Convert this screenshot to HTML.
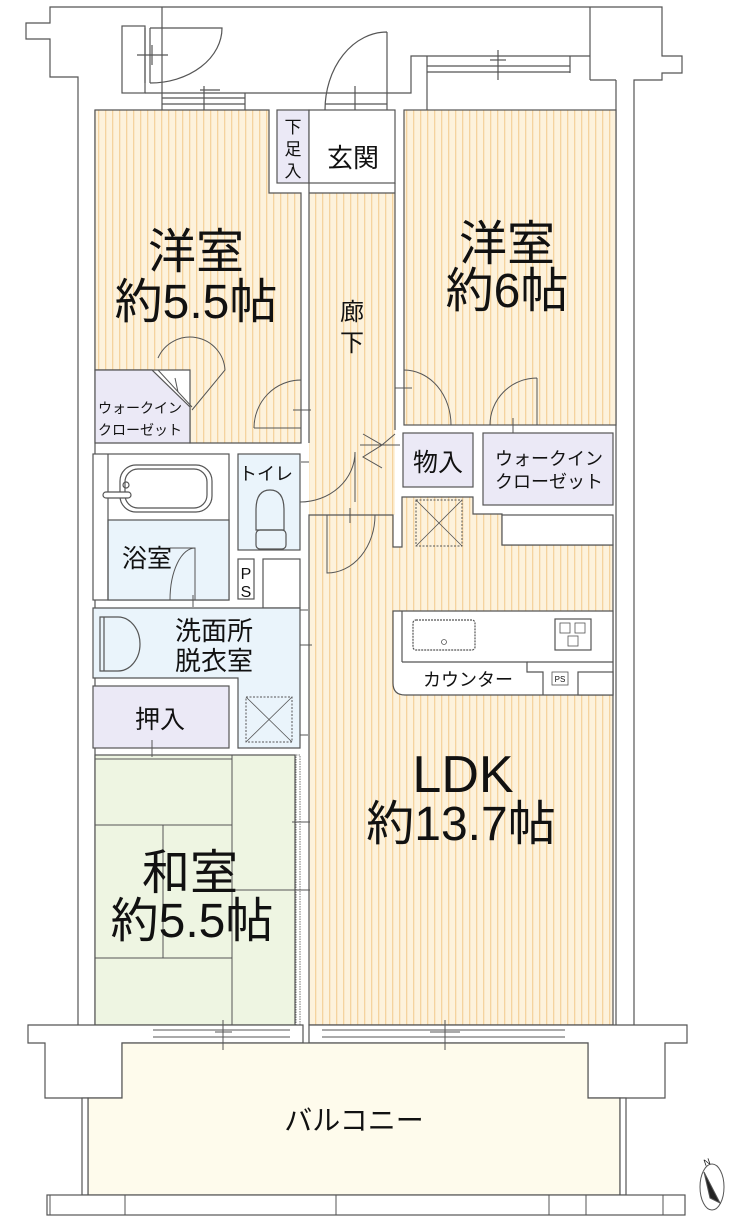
<!DOCTYPE html>
<html><head><meta charset="utf-8"><style>
html,body{margin:0;padding:0;background:#fff;}
svg{display:block;}
text{font-family:"Liberation Sans","Noto Sans CJK JP",sans-serif;fill:#111;}
</style></head><body>
<svg width="740" height="1224" viewBox="0 0 740 1224" xmlns="http://www.w3.org/2000/svg">
<defs>
<pattern id="st" width="7" height="10" patternUnits="userSpaceOnUse">
<rect width="7" height="10" fill="#fdf2dc"/><rect x="0" width="1.3" height="10" fill="#f5d39e"/>
</pattern>
</defs>
<g stroke="#555" stroke-width="1.2" fill="none">
<polyline points="78,1030 78,77 50,77 50,39 26,39 26,23 50,23 50,7 662,7 662,56 682,56 682,73 662,73 662,80 634,80 634,1030" fill="#fff"/>
<line x1="95" y1="110" x2="95" y2="1025"/>
<line x1="616" y1="80" x2="616" y2="1025"/>
<line x1="162" y1="7" x2="162" y2="110"/>
<line x1="590" y1="7" x2="590" y2="56"/>
<polyline points="145,93 411,93 411,56 590,56"/>
<line x1="590" y1="56" x2="590" y2="80"/>
<line x1="590" y1="80" x2="616" y2="80"/>
<rect x="122" y="26" width="23" height="67" fill="#fff"/>
<line x1="145" y1="28" x2="145" y2="83"/><line x1="150" y1="28" x2="150" y2="83"/>
<path d="M150,28 L222,28 A72,55 0 0 1 150,83"/>
<line x1="137" y1="55" x2="168" y2="55"/><line x1="152" y1="45" x2="152" y2="65"/>
<line x1="162" y1="98" x2="245" y2="98"/><line x1="162" y1="104" x2="245" y2="104"/>
<line x1="200" y1="90" x2="220" y2="90"/><line x1="204" y1="86" x2="204" y2="117"/>
<line x1="245" y1="93" x2="245" y2="110"/>
<path d="M387,32 L387,110 M325,110 A62,78 0 0 1 387,32"/>
<line x1="325" y1="104" x2="387" y2="104"/>
<line x1="355" y1="86" x2="355" y2="117"/>
<line x1="427" y1="56" x2="427" y2="110"/>
<line x1="427" y1="66" x2="570" y2="66"/><line x1="427" y1="72" x2="570" y2="72"/>
<line x1="570" y1="56" x2="570" y2="73"/>
<line x1="490" y1="60" x2="506" y2="60"/><line x1="498" y1="50" x2="498" y2="80"/>
</g>
<g stroke="#555" stroke-width="1.2">
<polygon points="95,110 269,110 269,193 301,193 301,443 190,443 190,370 95,370" fill="url(#st)"/>
<polygon points="95,370 152,370 190,407 190,443 95,443" fill="#ebe9f6"/>
<rect x="277" y="110" width="32" height="73" fill="#ebe9f6"/>
<rect x="309" y="110" width="86" height="73" fill="#fff"/>
<rect x="309" y="193" width="86" height="322" fill="url(#st)" stroke="none"/>
<line x1="309" y1="193" x2="395" y2="193"/><line x1="309" y1="183" x2="309" y2="443"/><line x1="395" y1="183" x2="395" y2="430"/>
<rect x="404" y="110" width="212" height="315" fill="url(#st)"/>
<rect x="403" y="433" width="70" height="54" fill="#ebe9f6"/>
<rect x="483" y="433" width="130" height="72" fill="#ebe9f6"/>
<polygon points="309,515 393,515 393,547 402,547 402,497 473,497 473,514 502,514 502,545 613,545 613,1025 309,1025" fill="url(#st)"/>
<rect x="502" y="515" width="111" height="30" fill="#fff"/>
<rect x="416" y="500" width="46" height="46" fill="none" stroke-dasharray="2,1.5" stroke-width="1"/>
<line x1="416" y1="500" x2="462" y2="546" stroke-width="0.8"/><line x1="462" y1="500" x2="416" y2="546" stroke-width="0.8"/>
<path d="M393,611 L613,611 L613,695 L405,695 Q393,695 393,683 Z" fill="#fff"/>
<line x1="402" y1="611" x2="402" y2="662"/>
<polyline points="402,662 527,662 527,672 543,672 543,695" fill="none"/>
<line x1="527" y1="662" x2="613" y2="662"/>
<rect x="552" y="672" width="16" height="13" fill="#fff" stroke-width="0.8"/>
<rect x="578" y="672" width="35" height="23" fill="#fff"/>
<rect x="413" y="620" width="62" height="30" rx="3" fill="#fff" stroke-dasharray="2,1" />
<circle cx="444" cy="642" r="2.5" fill="none" stroke-width="0.8"/>
<rect x="555" y="619" width="36" height="31" fill="#fff"/>
<g stroke-width="0.8" fill="none"><rect x="560" y="623" width="10" height="10"/><rect x="575" y="623" width="10" height="10"/><rect x="568" y="636" width="10" height="10"/></g>
<rect x="93" y="454" width="136" height="146" fill="#fff"/>
<rect x="108" y="520" width="121" height="80" fill="#eaf4fb"/>
<line x1="108" y1="454" x2="108" y2="600"/>
<rect x="120" y="465" width="92" height="47" rx="16" fill="none"/>
<rect x="125" y="469" width="82" height="39" rx="13" fill="none"/>
<rect x="103" y="492" width="28" height="6" rx="3" fill="#fff"/>
<circle cx="126" cy="485" r="3" fill="none"/>
<rect x="238" y="454" width="62" height="96" fill="#eaf4fb"/>
<path d="M256,530 L256,510 Q256,490 270,490 Q284,490 284,510 L284,530 Z" fill="none"/>
<rect x="256" y="530" width="30" height="19" rx="4" fill="none"/>
<rect x="238" y="559" width="16" height="40" fill="#fff"/>
<rect x="263" y="559" width="37" height="49" fill="#fff"/>
<polygon points="93,608 300,608 300,748 238,748 238,678 93,678" fill="#eaf4fb"/>
<path d="M100,617 L118,617 A22,27 0 0 1 118,671 L100,671 Z" fill="none"/>
<line x1="104" y1="617" x2="104" y2="671"/>
<rect x="246" y="697" width="46" height="45" fill="none" stroke-dasharray="2,1.5" stroke-width="1"/>
<line x1="246" y1="697" x2="292" y2="742" stroke-width="0.8"/><line x1="292" y1="697" x2="246" y2="742" stroke-width="0.8"/>
<rect x="93" y="686" width="136" height="62" fill="#ebe9f6"/>
<rect x="95" y="755" width="200" height="270" fill="#eef5e2"/>
<g stroke-width="1" fill="none">
<line x1="95" y1="825" x2="232" y2="825"/><line x1="163" y1="825" x2="163" y2="958"/>
<line x1="95" y1="958" x2="232" y2="958"/><line x1="232" y1="755" x2="232" y2="1025"/>
<line x1="232" y1="890" x2="295" y2="890"/>
<line x1="95" y1="759" x2="232" y2="759"/>
</g>
<rect x="296" y="755" width="4" height="270" fill="#fff" stroke-dasharray="1.5,1" stroke-width="0.8"/>
<polygon points="28,1025 303,1025 303,1043 122,1043 122,1098 45,1098 45,1043 28,1043" fill="#fff"/>
<polygon points="309,1025 687,1025 687,1043 665,1043 665,1098 588,1098 588,1043 309,1043" fill="#fff"/>
<polygon points="122,1043 588,1043 588,1098 620,1098 620,1195 88,1195 88,1098 122,1098" fill="#fefbec"/>
<rect x="82" y="1098" width="6" height="97" fill="#fff"/>
<rect x="620" y="1098" width="6" height="97" fill="#fff"/>
<rect x="47" y="1195" width="638" height="20" fill="#fff"/>
</g>
<g stroke="#555" stroke-width="1" fill="none">
<line x1="50" y1="1195" x2="50" y2="1215"/><line x1="125" y1="1195" x2="125" y2="1215"/><line x1="336" y1="1195" x2="336" y2="1215"/><line x1="549" y1="1195" x2="549" y2="1215"/><line x1="586" y1="1195" x2="586" y2="1215"/><line x1="663" y1="1195" x2="663" y2="1215"/>
<line x1="153" y1="1030" x2="290" y2="1030"/><line x1="153" y1="1037" x2="290" y2="1037"/>
<line x1="215" y1="1032" x2="232" y2="1032"/><line x1="223" y1="1020" x2="223" y2="1050"/>
<line x1="322" y1="1030" x2="565" y2="1030"/><line x1="322" y1="1037" x2="565" y2="1037"/>
<line x1="430" y1="1032" x2="460" y2="1032"/><line x1="445" y1="1020" x2="445" y2="1050"/>
<path d="M301,380 L301,443 M254,428 A47,48 0 0 1 301,380 M254,428 L301,428"/><line x1="293" y1="410" x2="311" y2="410"/>
<path d="M404,370 L404,425 M404,370 A47,55 0 0 1 451,425 L404,425"/><line x1="395" y1="388" x2="412" y2="388"/>
<path d="M537,378 L537,425 M490,425 A47,47 0 0 1 537,378"/><line x1="513" y1="418" x2="513" y2="433"/>
<path d="M158,358 A35,35 0 0 1 225,370 L192,410 M158,370 L192,407"/><line x1="175" y1="378" x2="178" y2="392"/>
<path d="M300,502 A55,50 0 0 0 355,452 L355,502"/>
<path d="M363,434 L382,445 L363,457 L382,468 M395,434 L382,445"/>
<line x1="360" y1="445" x2="400" y2="445"/>
<path d="M327,515 L327,573 A48,58 0 0 0 375,515"/><line x1="350" y1="508" x2="350" y2="523"/>
<path d="M170,548 L195,548 L195,600 M170,600 A25,52 0 0 1 195,548"/><line x1="193" y1="595" x2="193" y2="607"/>
<line x1="301" y1="462" x2="309" y2="462"/>
<line x1="300" y1="645" x2="312" y2="645"/>
<line x1="300" y1="610" x2="308" y2="610"/><line x1="300" y1="735" x2="308" y2="735"/>
<line x1="152" y1="740" x2="152" y2="757"/><line x1="142" y1="748" x2="165" y2="748"/>
<line x1="292" y1="822" x2="310" y2="822"/><line x1="292" y1="890" x2="310" y2="890"/>
<ellipse cx="712" cy="1187" rx="12" ry="23"/>
<polygon points="704,1172 720,1203 710,1198" fill="#222"/>
</g>
<text x="705" y="1166" font-size="9" fill="#111" transform="rotate(-20 705 1166)">N</text>
<text x="196" y="268" font-size="48" text-anchor="middle">洋室</text>
<text x="196" y="318" font-size="48" text-anchor="middle">約5.5帖</text>
<text x="507" y="260" font-size="48" text-anchor="middle">洋室</text>
<text x="507" y="307" font-size="48" text-anchor="middle">約6帖</text>
<text x="353" y="167" font-size="26" text-anchor="middle">玄関</text>
<text x="293" y="133" font-size="17" text-anchor="middle">下</text>
<text x="293" y="155" font-size="17" text-anchor="middle">足</text>
<text x="293" y="177" font-size="17" text-anchor="middle">入</text>
<text x="352" y="320" font-size="24" text-anchor="middle">廊</text>
<text x="352" y="351" font-size="24" text-anchor="middle">下</text>
<text x="140" y="413" font-size="14" text-anchor="middle">ウォークイン</text>
<text x="140" y="435" font-size="14" text-anchor="middle">クローゼット</text>
<text x="438" y="471" font-size="25" text-anchor="middle">物入</text>
<text x="549" y="465" font-size="18" text-anchor="middle">ウォークイン</text>
<text x="549" y="488" font-size="18" text-anchor="middle">クローゼット</text>
<text x="266" y="480" font-size="18" text-anchor="middle">トイレ</text>
<text x="147" y="567" font-size="25" text-anchor="middle">浴室</text>
<text x="246" y="579" font-size="16" text-anchor="middle">P</text>
<text x="246" y="597" font-size="16" text-anchor="middle">S</text>
<text x="214" y="640" font-size="26" text-anchor="middle">洗面所</text>
<text x="214" y="670" font-size="26" text-anchor="middle">脱衣室</text>
<text x="160" y="728" font-size="25" text-anchor="middle">押入</text>
<text x="468" y="686" font-size="18" text-anchor="middle">カウンター</text>
<text x="560" y="682" font-size="8" text-anchor="middle">PS</text>
<text x="463" y="792" font-size="52" text-anchor="middle">LDK</text>
<text x="461" y="840" font-size="48" text-anchor="middle">約13.7帖</text>
<text x="190" y="889" font-size="48" text-anchor="middle">和室</text>
<text x="192" y="937" font-size="48" text-anchor="middle">約5.5帖</text>
<text x="354" y="1130" font-size="28" text-anchor="middle">バルコニー</text>
</svg>
</body></html>
